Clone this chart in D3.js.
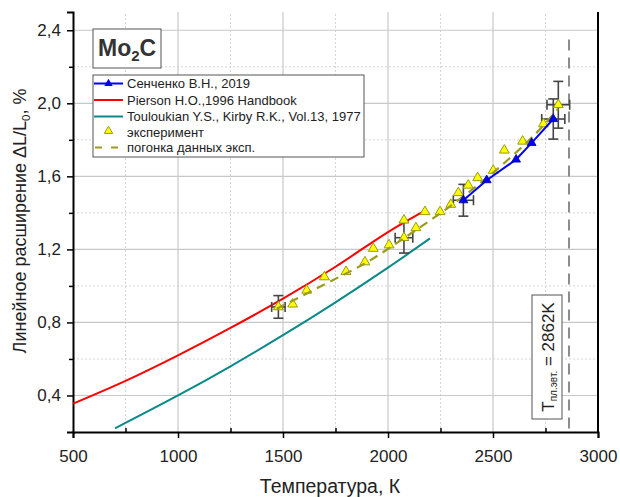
<!DOCTYPE html>
<html>
<head>
<meta charset="utf-8">
<script src="https://cdn.jsdelivr.net/npm/d3@7"></script>
<style>
  body { margin: 0; background: #fff; }
  text { font-family: "Liberation Sans", Arial, sans-serif; }
</style>
</head>
<body>
<script>
// --- data ---
var senT = [2359, 2470, 2610, 2684, 2787];
var senV = [1.469, 1.579, 1.692, 1.783, 1.914];

var piersonT = [500, 750, 1000, 1250, 1500, 1750, 2000, 2180];
var piersonV = [0.355, 0.48, 0.62, 0.77, 0.93, 1.105, 1.295, 1.415];

var toulT = [700, 1000, 1250, 1500, 1750, 2000, 2200];
var toulV = [0.22, 0.40, 0.56, 0.73, 0.91, 1.10, 1.26];

var expT = [1478, 1546, 1613, 1697, 1800, 1890, 1930, 2005, 2076, 2076, 2133, 2176, 2248, 2299, 2335, 2382, 2427, 2501, 2554, 2641, 2740, 2811];
var expV = [0.885, 0.90, 0.976, 1.049, 1.078, 1.131, 1.205, 1.224, 1.36, 1.264, 1.318, 1.406, 1.406, 1.446, 1.51, 1.551, 1.592, 1.632, 1.743, 1.792, 1.887, 1.992];

var fitT = [1470, 1700, 1900, 2100, 2300, 2500, 2700, 2810];
var fitV = [0.875, 1.01, 1.13, 1.28, 1.44, 1.62, 1.83, 1.97];

// error bars: [T, value, dT, dValue]
var expErr = [[1478, 0.885, 32, 0.062], [2076, 1.264, 42, 0.084], [2811, 1.992, 54, 0.128]];
var senErr = [[2359, 1.469, 48, 0.087], [2787, 1.914, 55, 0.11]];

var meltT = 2862;

var xTicks = [500, 1000, 1500, 2000, 2500, 3000];
var xMinor = [750, 1250, 1750, 2250, 2750];
var yTicks = [0.4, 0.8, 1.2, 1.6, 2.0, 2.4];
var yMinor = [0.6, 1.0, 1.4, 1.8, 2.2];

var legendLabels = ["Сенченко В.Н., 2019", "Pierson H.O.,1996 Handbook", "Touloukian Y.S., Kirby R.K., Vol.13, 1977", "эксперимент", "погонка данных эксп."];

// --- layout ---
var W = 620, H = 497;
var margin = { left: 73, right: 22, top: 12, bottom: 65 };

var svg = d3.select("body").append("svg")
  .attr("width", W)
  .attr("height", H);

var x = d3.scaleLinear().domain([500, 3000]).range([margin.left, W - margin.right]);
var y = d3.scaleLinear().domain([0.2, 2.5]).range([H - margin.bottom, margin.top]);

var fmt = function (d) { return d3.format(".1f")(d).replace(".", ","); };

// grid
var grid = svg.append("g");
grid.selectAll("line.vmaj").data(xTicks.slice(1, -1)).enter().append("line")
  .attr("x1", function (d) { return x(d); }).attr("x2", function (d) { return x(d); })
  .attr("y1", y(0.2)).attr("y2", y(2.5))
  .attr("stroke", "#c8c8c8").attr("stroke-width", 1.2);
grid.selectAll("line.vmin").data(xMinor).enter().append("line")
  .attr("x1", function (d) { return x(d); }).attr("x2", function (d) { return x(d); })
  .attr("y1", y(0.2)).attr("y2", y(2.5))
  .attr("stroke", "#d4d4d4").attr("stroke-dasharray", "2,2");
grid.selectAll("line.hmaj").data(yTicks).enter().append("line")
  .attr("y1", function (d) { return y(d); }).attr("y2", function (d) { return y(d); })
  .attr("x1", x(500)).attr("x2", x(3000))
  .attr("stroke", "#c8c8c8").attr("stroke-width", 1.2);
grid.selectAll("line.hmin").data(yMinor).enter().append("line")
  .attr("y1", function (d) { return y(d); }).attr("y2", function (d) { return y(d); })
  .attr("x1", x(500)).attr("x2", x(3000))
  .attr("stroke", "#d4d4d4").attr("stroke-dasharray", "2,2");

// axes
var xAxis = svg.append("g").attr("transform", "translate(0," + y(0.2) + ")")
  .call(d3.axisBottom(x).tickValues(xTicks).tickSize(6).tickPadding(12).tickFormat(d3.format("d")));
var xAxisMinor = svg.append("g").attr("transform", "translate(0," + y(0.2) + ")")
  .call(d3.axisTop(x).tickValues(xMinor).tickSize(4).tickFormat(""));
var yAxis = svg.append("g").attr("transform", "translate(" + x(500) + ",0)")
  .call(d3.axisLeft(y).tickValues(yTicks).tickSize(6).tickPadding(6).tickFormat(fmt));
var yAxisMinor = svg.append("g").attr("transform", "translate(" + x(500) + ",0)")
  .call(d3.axisLeft(y).tickValues(yMinor).tickSize(4).tickFormat(""));

[xAxis, xAxisMinor, yAxis, yAxisMinor].forEach(function (g) {
  g.select(".domain").attr("stroke", "#000").attr("stroke-width", 2);
  g.selectAll(".tick line").attr("stroke", "#000").attr("stroke-width", 1.5);
  g.selectAll(".tick text").attr("font-size", 17).attr("fill", "#222")
    .style("font-family", "'Liberation Sans', Arial, sans-serif");
});
xAxisMinor.select(".domain").remove();
yAxisMinor.select(".domain").remove();

// right frame line
svg.append("line")
  .attr("x1", x(3000)).attr("x2", x(3000))
  .attr("y1", y(0.2)).attr("y2", y(2.5))
  .attr("stroke", "#000").attr("stroke-width", 2);

// axis titles
svg.append("text")
  .attr("x", 330).attr("y", 493)
  .attr("text-anchor", "middle").attr("font-size", 19.5).attr("fill", "#222")
  .text("Температура, К");

var yt = svg.append("text")
  .attr("transform", "translate(26," + 221 + ") rotate(-90)")
  .attr("text-anchor", "middle").attr("font-size", 18).attr("fill", "#222");
yt.append("tspan").text("Линейное расширение ΔL/L");
yt.append("tspan").attr("font-size", 11.5).attr("dy", 4).text("0");
yt.append("tspan").attr("dy", -4).text(", %");

// curves
var line = d3.line().x(function (d) { return x(d[0]); }).y(function (d) { return y(d[1]); }).curve(d3.curveCatmullRom);

svg.append("path").datum(d3.zip(piersonT, piersonV))
  .attr("d", line).attr("fill", "none").attr("stroke", "#ff0000").attr("stroke-width", 2);
svg.append("path").datum(d3.zip(toulT, toulV))
  .attr("d", line).attr("fill", "none").attr("stroke", "#0a8a87").attr("stroke-width", 2);

// melting line
svg.append("line")
  .attr("x1", x(meltT)).attr("x2", x(meltT))
  .attr("y1", y(2.35)).attr("y2", y(0.2))
  .attr("stroke", "#8c8c8c").attr("stroke-width", 2).attr("stroke-dasharray", "11,7");

// error bars
function errorBars(data, color) {
  var g = svg.append("g").attr("stroke", color).attr("stroke-width", 1.6).attr("fill", "none");
  data.forEach(function (e) {
    var cx = x(e[0]), cy = y(e[1]);
    var x0 = x(e[0] - e[2]), x1 = x(e[0] + e[2]);
    var y0 = y(e[1] - e[3]), y1 = y(e[1] + e[3]);
    g.append("line").attr("x1", cx).attr("x2", cx).attr("y1", y0).attr("y2", y1);
    g.append("line").attr("x1", x0).attr("x2", x1).attr("y1", cy).attr("y2", cy);
    g.append("line").attr("x1", cx - 5).attr("x2", cx + 5).attr("y1", y0).attr("y2", y0);
    g.append("line").attr("x1", cx - 5).attr("x2", cx + 5).attr("y1", y1).attr("y2", y1);
    g.append("line").attr("x1", x0).attr("x2", x0).attr("y1", cy - 5).attr("y2", cy + 5);
    g.append("line").attr("x1", x1).attr("x2", x1).attr("y1", cy - 5).attr("y2", cy + 5);
  });
}
errorBars(expErr, "#444");
errorBars(senErr, "#444");

// experiment triangles
var tri = d3.symbol().type(d3.symbolTriangle).size(42);
svg.selectAll("path.exp").data(d3.zip(expT, expV)).enter().append("path")
  .attr("class", "exp")
  .attr("d", tri)
  .attr("transform", function (d) { return "translate(" + x(d[0]) + "," + y(d[1]) + ")"; })
  .attr("fill", "#ffff00").attr("stroke", "#9a9a10").attr("stroke-width", 1);

// fit dashed line
svg.append("path").datum(d3.zip(fitT, fitV))
  .attr("d", line).attr("fill", "none").attr("stroke", "#9c9c1c")
  .attr("stroke-width", 2.2).attr("stroke-dasharray", "9,6");

// Senchenko series
svg.append("path").datum(d3.zip(senT, senV))
  .attr("d", d3.line().x(function (d) { return x(d[0]); }).y(function (d) { return y(d[1]); }))
  .attr("fill", "none").attr("stroke", "#0000ff").attr("stroke-width", 2);
svg.selectAll("path.sen").data(d3.zip(senT, senV)).enter().append("path")
  .attr("class", "sen")
  .attr("d", d3.symbol().type(d3.symbolTriangle).size(34))
  .attr("transform", function (d) { return "translate(" + x(d[0]) + "," + y(d[1]) + ")"; })
  .attr("fill", "#0000ff").attr("stroke", "#00008b").attr("stroke-width", 0.8);

// Mo2C box
svg.append("rect").attr("x", 93).attr("y", 29).attr("width", 68).attr("height", 39)
  .attr("fill", "#fff").attr("stroke", "#555").attr("stroke-width", 1);
var mo = svg.append("text").attr("x", 98).attr("y", 56).attr("font-size", 23)
  .attr("font-weight", "bold").attr("fill", "#333");
mo.append("tspan").text("Mo");
mo.append("tspan").attr("font-size", 15).attr("dy", 5).text("2");
mo.append("tspan").attr("dy", -5).text("C");

// legend
var lg = svg.append("g");
lg.append("rect").attr("x", 93).attr("y", 75).attr("width", 271).attr("height", 82)
  .attr("fill", "#fff").attr("stroke", "#555").attr("stroke-width", 1);
var rowY = [83.5, 100, 116.5, 132, 147.5];
lg.append("line").attr("x1", 94).attr("x2", 123).attr("y1", rowY[0]).attr("y2", rowY[0])
  .attr("stroke", "#0000ff").attr("stroke-width", 2);
lg.append("path").attr("d", d3.symbol().type(d3.symbolTriangle).size(30))
  .attr("transform", "translate(108.5," + rowY[0] + ")").attr("fill", "#0000ff");
lg.append("line").attr("x1", 94).attr("x2", 123).attr("y1", rowY[1]).attr("y2", rowY[1])
  .attr("stroke", "#ff0000").attr("stroke-width", 2);
lg.append("line").attr("x1", 94).attr("x2", 123).attr("y1", rowY[2]).attr("y2", rowY[2])
  .attr("stroke", "#0a8a87").attr("stroke-width", 2);
lg.append("path").attr("d", d3.symbol().type(d3.symbolTriangle).size(30))
  .attr("transform", "translate(108.5," + (rowY[3] - 1) + ")")
  .attr("fill", "#ffff00").attr("stroke", "#9a9a10").attr("stroke-width", 1);
lg.append("line").attr("x1", 95).attr("x2", 123).attr("y1", rowY[4]).attr("y2", rowY[4])
  .attr("stroke", "#9c9c1c").attr("stroke-width", 2.2).attr("stroke-dasharray", "7,9");
lg.selectAll("text").data(legendLabels).enter().append("text")
  .attr("x", 127).attr("y", function (d, i) { return rowY[i] + 4.5; })
  .attr("font-size", 13).attr("fill", "#222")
  .text(function (d) { return d; });

// melting point label
var mg = svg.append("g").attr("transform", "translate(547,357) rotate(-90)");
mg.append("rect").attr("x", -62).attr("y", -15).attr("width", 124).attr("height", 30)
  .attr("fill", "#fff").attr("stroke", "#555").attr("stroke-width", 1);
var mt = mg.append("text").attr("x", 0).attr("y", 7).attr("text-anchor", "middle")
  .attr("font-size", 17).attr("fill", "#222");
mt.append("tspan").text("T");
mt.append("tspan").attr("font-size", 10).attr("dy", 3).text("пл.эвт.");
mt.append("tspan").attr("dy", -3).text(" = 2862K");
</script>
</body>
</html>
